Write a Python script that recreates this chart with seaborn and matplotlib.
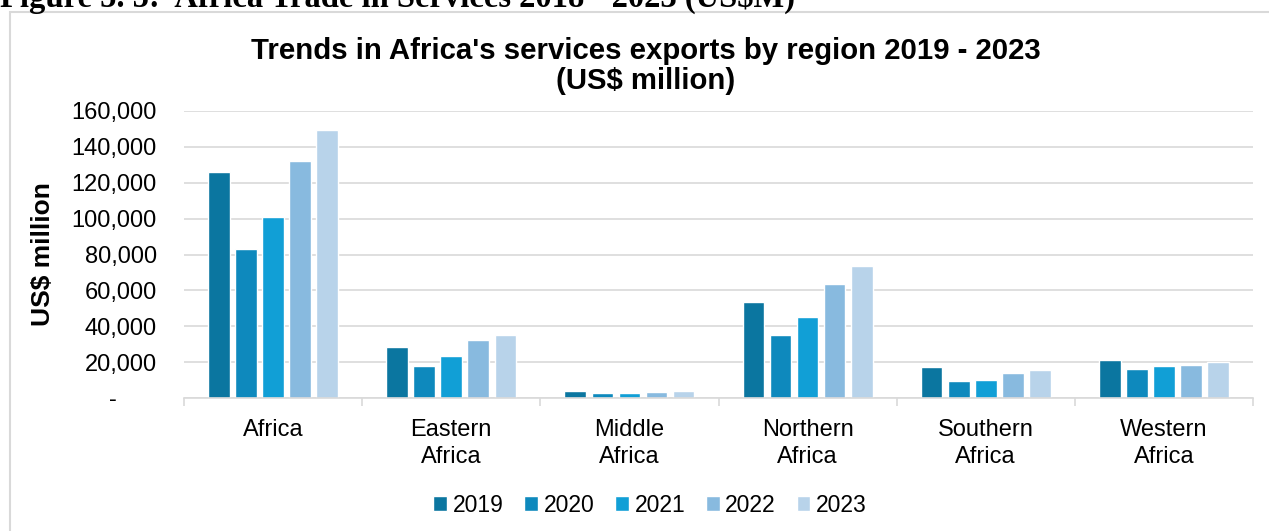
import matplotlib
matplotlib.use("Agg")
import matplotlib.pyplot as plt
import matplotlib.ticker as mticker
from matplotlib.patches import Rectangle
import pandas as pd
import seaborn as sns

# data (US$ million)
regions = ['Africa', 'Eastern\nAfrica', 'Middle\nAfrica', 'Northern\nAfrica', 'Southern\nAfrica', 'Western\nAfrica']
years = ['2019', '2020', '2021', '2022', '2023']
v2019 = [125900, 28700, 3900, 53300, 17100, 21100]
v2020 = [82900, 18100, 2700, 35000, 9300, 15900]
v2021 = [100800, 23300, 2700, 45100, 9900, 18100]
v2022 = [132400, 32200, 3300, 63300, 13800, 18300]
v2023 = [149400, 34900, 3800, 73700, 15600, 19800]
colors = ['#0b76a0', '#0e89bd', '#119fd6', '#88badf', '#b8d3ea']

rows = []
for yr, vals in zip(years, [v2019, v2020, v2021, v2022, v2023]):
    for reg, v in zip(regions, vals):
        rows.append({'region': reg, 'year': yr, 'value': v})
df = pd.DataFrame(rows)

sns.set_style("white")
plt.rcParams['font.family'] = ['Liberation Sans', 'DejaVu Sans']
plt.rcParams['text.color'] = 'black'
plt.rcParams['axes.labelcolor'] = 'black'

fig = plt.figure(figsize=(12.69, 5.31), dpi=100)
ax = fig.add_axes([184/1269, 1-398/531, (1253-184)/1269, (398-111)/531])

sns.barplot(data=df, x='region', y='value', hue='year', order=regions, hue_order=years,
            palette=colors, width=0.76, gap=0.2, ax=ax, saturation=1, legend=True)

ax.set_ylim(0, 160000)
ax.set_xlim(-0.5, 5.5)
ax.yaxis.set_major_locator(mticker.MultipleLocator(20000))
ax.yaxis.set_major_formatter(mticker.FuncFormatter(lambda v, p: '-      ' if v == 0 else f'{v:,.0f}'))
ax.grid(axis='y', color='#d9d9d9', lw=1.2)
ax.set_axisbelow(True)
for s in ['left', 'top', 'right']:
    ax.spines[s].set_visible(False)
ax.spines['bottom'].set_color('#d9d9d9')
ax.spines['bottom'].set_linewidth(1.2)

ax.set_xticks(range(len(regions)))
ax.set_xticklabels(regions, linespacing=1.3)
ax.set_xticks([i - 0.5 for i in range(len(regions) + 1)], minor=True)
ax.tick_params(axis='x', which='major', length=0, pad=15, labelsize=17, labelcolor='#000000')
ax.tick_params(axis='x', which='minor', length=6, width=1.2, color='#d9d9d9', direction='out', bottom=True)
ax.tick_params(axis='y', length=0, pad=19.5, labelsize=17, labelcolor='#000000')

ax.set_xlabel('')
ax.set_ylabel('US$ million', fontsize=19, fontweight='bold', labelpad=12)

fig.text(0.5087, 1-66/531, "Trends in Africa's services exports by region 2019 - 2023\n(US$ million)",
         ha='center', va='center', fontsize=21.2, fontweight='bold', linespacing=1.12)

handles, labels = ax.get_legend_handles_labels()
ax.get_legend().remove()
fig.legend(handles, labels, loc='center', bbox_to_anchor=(650/1269, 1-505/531), ncol=5,
           frameon=False, fontsize=16.5, handlelength=0.6, handleheight=0.6,
           handletextpad=0.25, columnspacing=0.9)

# outer chart frame and cropped figure caption
fig.patches.append(Rectangle((10/1269, -0.2), 1.2, 1.2 - 12/531, transform=fig.transFigure,
                             fill=False, edgecolor='#d9d9d9', lw=1.5))
fig.text(0, 1-7/531, 'Figure 5. 5:  Africa Trade in Services 2018 - 2023 (US$M)',
         ha='left', va='baseline', fontsize=23.5, fontweight='bold',
         family=['Liberation Serif', 'DejaVu Serif'])

fig.savefig('out.png', dpi=100)
